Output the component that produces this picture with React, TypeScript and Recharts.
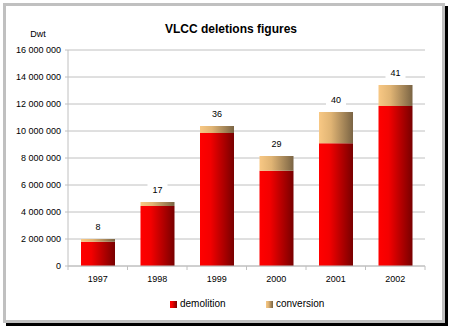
import { BarChart, Bar, XAxis, YAxis, CartesianGrid, LabelList } from 'recharts';

const years = ['1997', '1998', '1999', '2000', '2001', '2002'];
const demolition = [1800000, 4450000, 9850000, 7050000, 9100000, 11850000];
const conversion = [200000, 300000, 520000, 1100000, 2300000, 1550000];
const ships = [8, 17, 36, 29, 40, 41];
const yTicks = [0, 2000000, 4000000, 6000000, 8000000, 10000000, 12000000, 14000000, 16000000];

const data = years.map((year, i) => ({
  year,
  demolition: demolition[i],
  conversion: conversion[i],
  ships: ships[i],
}));

const font = 'Arial, "Liberation Sans", sans-serif';
const gray = '#c0c0c0';

// non-breaking spaces so the tick text is not wrapped
const fmt = (v: number) => String(v).replace(/\B(?=(\d{3})+(?!\d))/g, '\u00a0');

function YearTick(props: any) {
  const { x, y, payload, index, visibleTicksCount } = props;
  const off = payload?.offset ?? 0;
  const last = index === (visibleTicksCount ?? years.length) - 1;
  return (
    <g>
      <line x1={x - off} x2={x - off} y1={y} y2={y + 4} stroke={gray} />
      {last && <line x1={x + off} x2={x + off} y1={y} y2={y + 4} stroke={gray} />}
      <text x={x} y={y + 13} textAnchor="middle" dominantBaseline="central" fontSize={9} fontFamily={font} fill="#000">
        {payload.value}
      </text>
    </g>
  );
}

function ShipsLabel(props: any) {
  const { x, y, width, value } = props;
  const cx = x + width / 2;
  const cy = y - 12;
  const w = String(value).length * 5 + 10;
  return (
    <g>
      <rect x={cx - w / 2} y={cy - 6} width={w} height={12} fill="#fff" />
      <text x={cx} y={cy} textAnchor="middle" dominantBaseline="central" fontSize={9} fontFamily={font} fill="#000">
        {value}
      </text>
    </g>
  );
}

export default function App() {
  return (
    <div style={{ position: 'absolute', left: 0, top: 0, width: 452, height: 328, background: '#fff' }}>
      <div
        style={{
          position: 'absolute',
          left: 3,
          top: 3,
          width: 442,
          height: 320,
          boxSizing: 'border-box',
          border: `3px solid ${gray}`,
          boxShadow: '3px 3px 0 #000',
          background: '#fff',
        }}
      />
      <div style={{ position: 'absolute', left: 0, top: 0 }}>
        <BarChart width={452} height={328} data={data} margin={{ top: 50, right: 27, left: 0, bottom: 42 }}>
          <defs>
            <linearGradient id="redGrad" x1="0" y1="0" x2="1" y2="0">
              <stop offset="0%" stopColor="#ff0000" />
              <stop offset="30%" stopColor="#f40000" />
              <stop offset="100%" stopColor="#780000" />
            </linearGradient>
            <linearGradient id="tanGrad" x1="0" y1="0" x2="1" y2="0">
              <stop offset="0%" stopColor="#f8c884" />
              <stop offset="35%" stopColor="#e0b474" />
              <stop offset="100%" stopColor="#7a6444" />
            </linearGradient>
          </defs>
          <text x={231} y={29} textAnchor="middle" dominantBaseline="central" fontSize={12} fontWeight="bold" fontFamily={font}>
            VLCC deletions figures
          </text>
          <text x={38} y={34} textAnchor="middle" dominantBaseline="central" fontSize={9} fontFamily={font}>
            Dwt
          </text>
          <CartesianGrid vertical={false} stroke={gray} />
          <XAxis
            dataKey="year"
            height={20}
            stroke={gray}
            tickLine={false}
            tickSize={0}
            tickMargin={0}
            tick={<YearTick />}
            interval={0}
          />
          <YAxis
            width={68}
            domain={[0, 16000000]}
            ticks={yTicks}
            stroke={gray}
            tickSize={3}
            tickMargin={4}
            tickFormatter={fmt}
            tick={{ fill: '#000', fontSize: 9, fontFamily: font }}
            interval={0}
          />
          <Bar dataKey="demolition" stackId="a" fill="url(#redGrad)" barSize={34} isAnimationActive={false} />
          <Bar dataKey="conversion" stackId="a" fill="url(#tanGrad)" barSize={34} isAnimationActive={false}>
            <LabelList dataKey="ships" content={<ShipsLabel />} />
          </Bar>
        </BarChart>
      </div>
      <div style={{ position: 'absolute', left: 170, top: 297, display: 'flex', alignItems: 'center', fontFamily: font, fontSize: 10, color: '#000' }}>
        <span style={{ width: 7, height: 7, background: 'linear-gradient(to right, #ff0000, #f40000 30%, #780000)', marginRight: 3 }} />
        <span style={{ lineHeight: '14px' }}>demolition</span>
      </div>
      <div style={{ position: 'absolute', left: 266, top: 297, display: 'flex', alignItems: 'center', fontFamily: font, fontSize: 10, color: '#000' }}>
        <span style={{ width: 7, height: 7, background: 'linear-gradient(to right, #f8c884, #e0b474 35%, #7a6444)', marginRight: 3 }} />
        <span style={{ lineHeight: '14px' }}>conversion</span>
      </div>
    </div>
  );
}
